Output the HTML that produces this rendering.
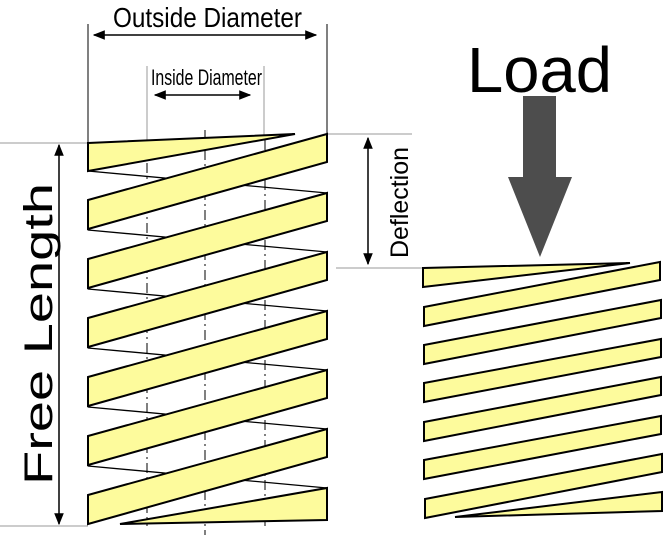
<!DOCTYPE html>
<html><head><style>html,body{margin:0;padding:0;background:#fff}svg{display:block}</style></head>
<body>
<svg width="664" height="535" viewBox="0 0 664 535" xmlns="http://www.w3.org/2000/svg" font-family="Liberation Sans, sans-serif">
<defs>
<marker id="a" viewBox="0 0 10 10" refX="9" refY="5" markerWidth="8" markerHeight="8" orient="auto-start-reverse"><path d="M0,1 L10,5 L0,9 z" fill="#000"/></marker>
</defs>
<!-- reference lines -->
<g stroke="#999" stroke-width="1">
<line x1="0" y1="143" x2="88" y2="143"/>
<line x1="0" y1="526" x2="88" y2="526"/>
<line x1="327" y1="134" x2="412" y2="134"/>
<line x1="336" y1="268" x2="423" y2="268"/>
<line x1="147" y1="66" x2="147" y2="143"/>
<line x1="264" y1="66" x2="264" y2="140"/>
</g>
<g stroke="#000" stroke-width="1">
<line x1="88" y1="24" x2="88" y2="143"/>
<line x1="327" y1="24" x2="327" y2="134"/>
</g>
<!-- center dash-dot lines -->
<g stroke="#000" stroke-width="1" stroke-dasharray="10,4,2,4">
<line x1="147" y1="143" x2="147" y2="526"/>
<line x1="205" y1="130" x2="205" y2="535"/>
<line x1="265" y1="140" x2="265" y2="526"/>
</g>
<!-- back zigzag lines -->
<g stroke="#000" stroke-width="1.3">
<line x1="88" y1="171" x2="327" y2="193"/>
<line x1="88" y1="230" x2="327" y2="252"/>
<line x1="88" y1="289" x2="327" y2="311"/>
<line x1="88" y1="348" x2="327" y2="370"/>
<line x1="88" y1="407" x2="327" y2="429"/>
<line x1="88" y1="466" x2="327" y2="488"/>
</g>
<!-- left spring bands -->
<g fill="#fdfb9c" stroke="#000" stroke-width="2" stroke-linejoin="miter">
<polygon points="88,143 295,134 88,171"/>
<polygon points="88,200 327,134 327,162 88,229"/>
<polygon points="88,259 327,193 327,221 88,288"/>
<polygon points="88,318 327,252 327,280 88,347"/>
<polygon points="88,377 327,311 327,339 88,406"/>
<polygon points="88,436 327,370 327,398 88,465"/>
<polygon points="88,495 327,429 327,457 88,524"/>
<polygon points="327,488 327,520 120,524"/>
</g>
<!-- right spring bands -->
<g fill="#fdfb9c" stroke="#000" stroke-width="2">
<polygon points="423,268 630,263 423,287"/>
<polygon points="424,307 660,262 660,280 424,326"/>
<polygon points="424,345 661,300 661,318 424,364"/>
<polygon points="424,383 661,339 661,357 424,402"/>
<polygon points="424,422 661,377 661,395 424,441"/>
<polygon points="424,460 661,416 661,434 424,479"/>
<polygon points="425,499 662,454 662,472 425,518"/>
<polygon points="662,492 662,511 455,517"/>
</g>
<!-- dimension arrows -->
<g stroke="#000" stroke-width="1.5" marker-start="url(#a)" marker-end="url(#a)">
<line x1="94" y1="35" x2="316" y2="35"/>
<line x1="155" y1="95" x2="250" y2="95"/>
<line x1="59" y1="145" x2="59" y2="524"/>
<line x1="368" y1="138" x2="368" y2="264"/>
</g>
<!-- load arrow -->
<polygon points="523,96 556,96 556,177 572,177 540,257 508,177 523,177" fill="#4d4d4d"/>
<!-- text -->
<text x="113" y="27" font-size="28" textLength="189" lengthAdjust="spacingAndGlyphs">Outside Diameter</text>
<text x="151" y="85" font-size="22" textLength="111" lengthAdjust="spacingAndGlyphs">Inside Diameter</text>
<text x="467" y="92" font-size="64" textLength="145" lengthAdjust="spacingAndGlyphs">Load</text>
<text transform="translate(408,258) rotate(-90)" font-size="25" textLength="111" lengthAdjust="spacingAndGlyphs">Deflection</text>
<text transform="translate(52,485) rotate(-90)" font-size="40" textLength="302" lengthAdjust="spacingAndGlyphs">Free Length</text>
</svg>
</body></html>
